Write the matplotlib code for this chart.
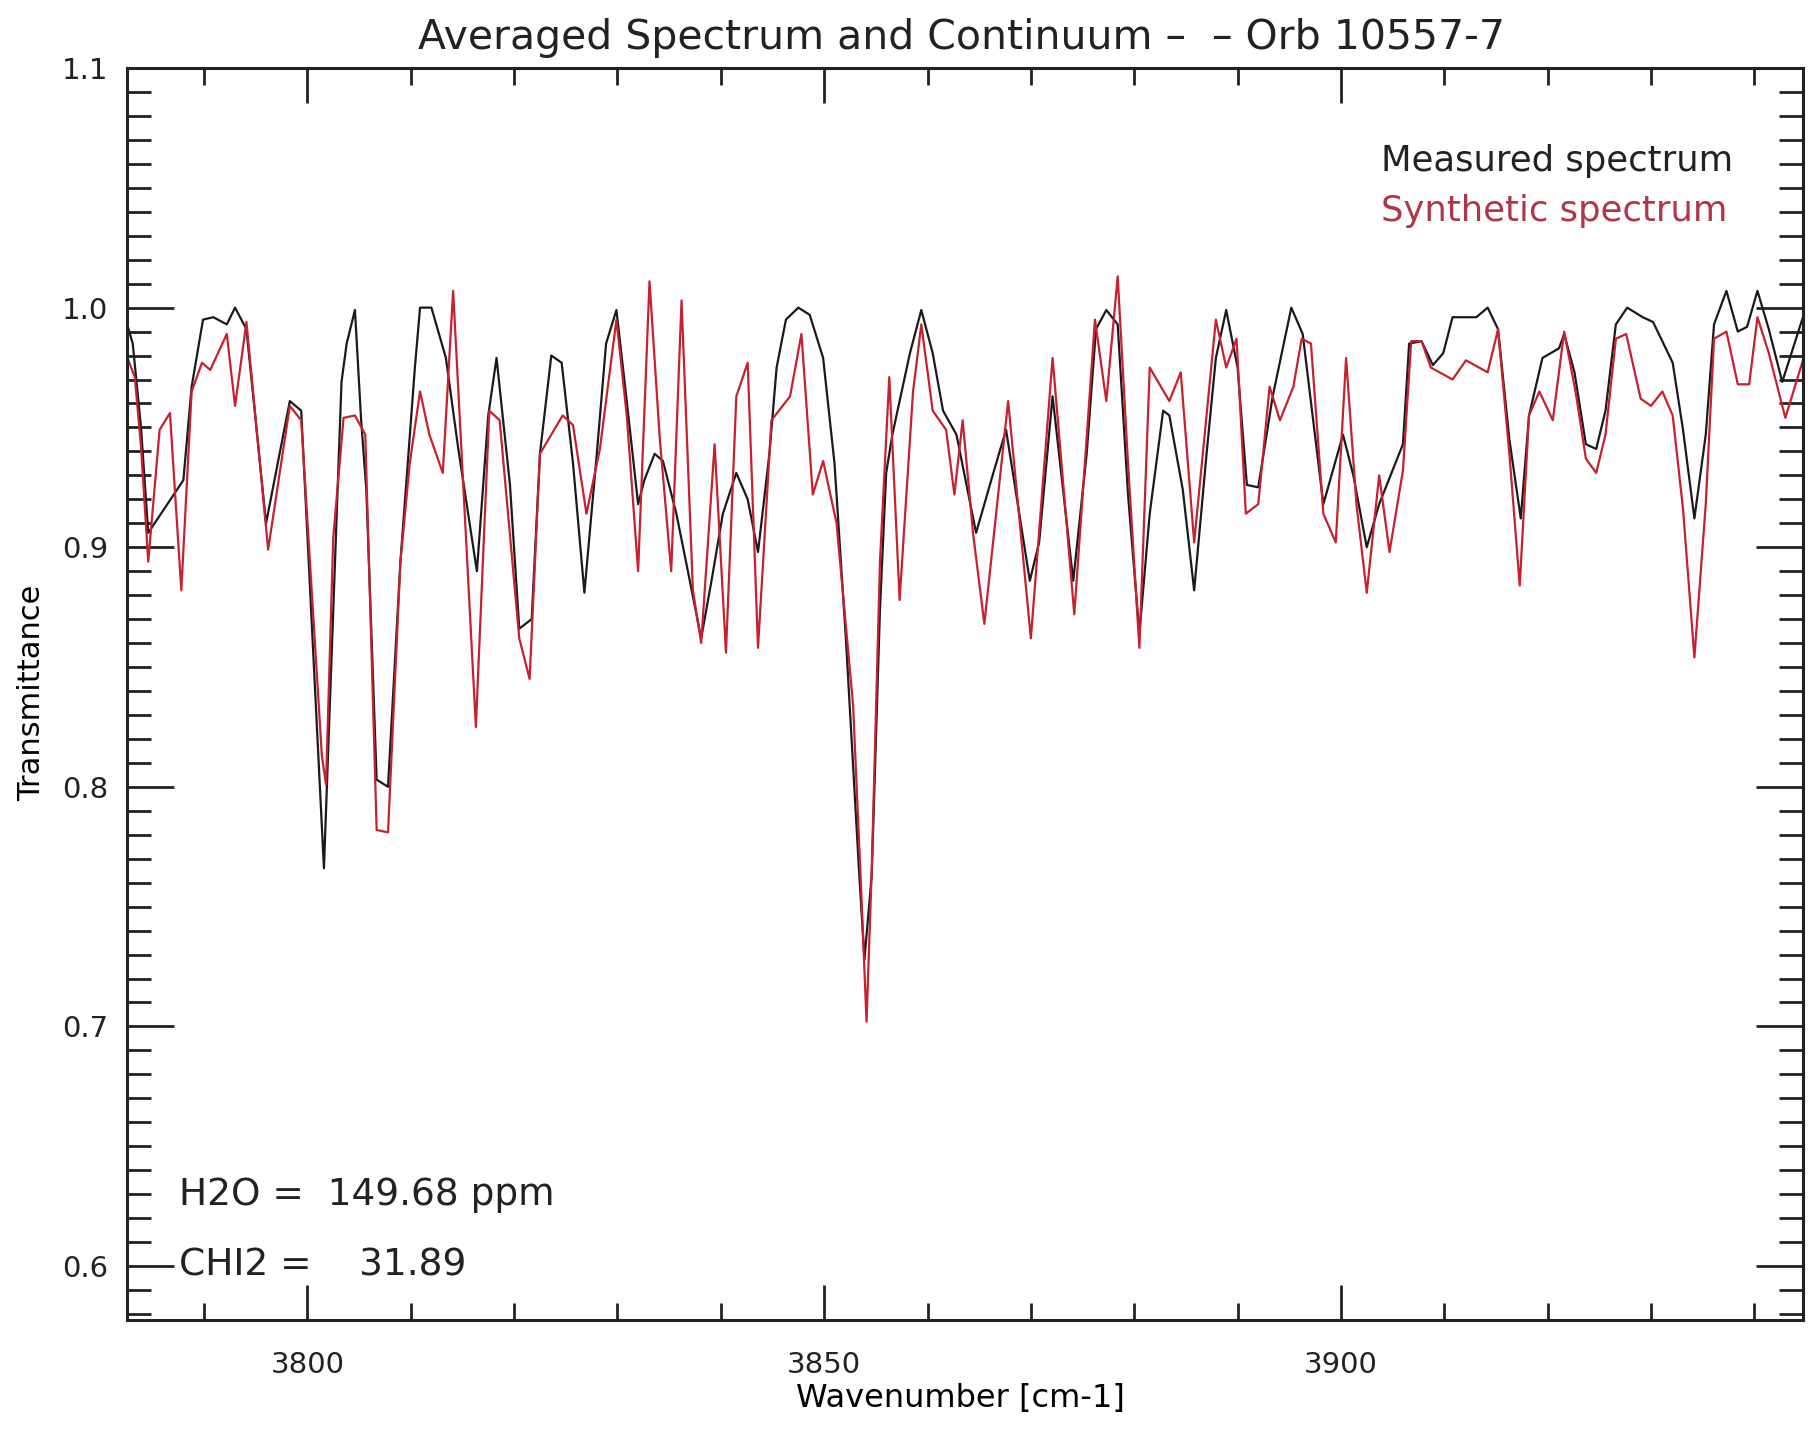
import matplotlib
matplotlib.use("Agg")
import matplotlib.pyplot as plt
from matplotlib.ticker import MultipleLocator

# measured spectrum (black)
meas_wn = [3782.5, 3783.1, 3783.9, 3784.6, 3788.0, 3788.8, 3789.9, 3790.9, 3792.2, 3793.0, 3794.1,
           3796.0, 3798.3, 3799.4, 3801.6, 3802.5, 3803.3, 3803.8, 3804.6, 3805.2, 3805.7,
           3806.7, 3807.8, 3809.0, 3810.4, 3810.9, 3812.0, 3813.4, 3814.6, 3816.4, 3817.5,
           3818.3, 3819.6, 3820.5, 3821.7, 3822.5, 3823.6, 3824.6, 3825.7, 3826.8, 3828.0,
           3828.9, 3829.9, 3830.9, 3832.0, 3832.6, 3833.6, 3834.4, 3835.7, 3837.0, 3838.1,
           3839.1, 3840.2, 3841.5, 3842.6, 3843.6, 3844.7, 3845.4, 3846.3, 3847.5, 3848.6,
           3849.9, 3851.0, 3852.1, 3853.4, 3853.9, 3854.6, 3855.4, 3856.0, 3856.6, 3858.3,
           3859.4, 3860.5, 3861.5, 3862.8, 3864.7, 3866.3, 3867.6, 3869.9, 3870.8, 3872.1,
           3874.1, 3875.4, 3876.3, 3877.3, 3878.4, 3879.4, 3880.5, 3881.5, 3882.8, 3883.4,
           3884.7, 3885.8, 3887.0, 3887.9, 3888.9, 3890.0, 3890.9, 3892.0, 3893.4, 3895.2,
           3896.3, 3898.3, 3900.2, 3901.2, 3902.5, 3903.7, 3906.0, 3906.6, 3907.8, 3908.9,
           3909.9, 3910.8, 3913.1, 3914.2, 3915.2, 3916.3, 3917.4, 3918.2, 3919.5, 3921.1,
           3921.6, 3922.6, 3923.7, 3924.7, 3925.6, 3926.6, 3927.7, 3929.2, 3930.2, 3932.1,
           3933.1, 3934.2, 3935.3, 3936.1, 3937.3, 3938.4, 3939.3, 3940.3, 3941.4, 3942.7,
           3944.7]
meas_tr = [0.994, 0.985, 0.950, 0.906, 0.928, 0.967, 0.995, 0.996, 0.993, 1.000, 0.991,
           0.910, 0.961, 0.957, 0.766, 0.874, 0.969, 0.985, 0.999, 0.953, 0.924,
           0.803, 0.800, 0.894, 0.975, 1.000, 1.000, 0.979, 0.941, 0.890, 0.955,
           0.979, 0.926, 0.866, 0.870, 0.939, 0.980, 0.977, 0.935, 0.881, 0.939,
           0.985, 0.999, 0.961, 0.918, 0.928, 0.939, 0.936, 0.914, 0.886, 0.862,
           0.886, 0.914, 0.931, 0.920, 0.898, 0.939, 0.975, 0.995, 1.000, 0.997,
           0.979, 0.935, 0.862, 0.763, 0.728, 0.763, 0.874, 0.931, 0.947, 0.981,
           0.999, 0.981, 0.957, 0.947, 0.906, 0.930, 0.949, 0.886, 0.902, 0.963,
           0.886, 0.939, 0.991, 0.999, 0.993, 0.922, 0.864, 0.914, 0.957, 0.955,
           0.924, 0.882, 0.939, 0.979, 0.999, 0.975, 0.926, 0.925, 0.963, 1.000,
           0.989, 0.918, 0.947, 0.930, 0.900, 0.918, 0.943, 0.985, 0.986, 0.976,
           0.981, 0.996, 0.996, 1.000, 0.991, 0.945, 0.912, 0.955, 0.979, 0.983,
           0.989, 0.973, 0.943, 0.941, 0.957, 0.993, 1.000, 0.996, 0.994, 0.977,
           0.949, 0.912, 0.947, 0.993, 1.007, 0.990, 0.992, 1.007, 0.991, 0.969,
           0.996]

# synthetic spectrum (red)
synt_wn = [3782.5, 3783.3, 3783.9, 3784.6, 3785.7, 3786.7, 3787.8, 3788.8, 3789.8, 3790.6,
           3792.2, 3793.0, 3794.1, 3796.2, 3798.3, 3799.4, 3801.4, 3801.8, 3802.5, 3803.5,
           3804.6, 3805.6, 3806.7, 3807.8, 3809.0, 3809.9, 3810.9, 3811.8, 3813.1, 3814.1,
           3816.3, 3817.6, 3818.6, 3820.5, 3821.5, 3822.5, 3824.7, 3825.7, 3827.0, 3828.3,
           3829.9, 3830.9, 3832.0, 3833.1, 3834.1, 3835.2, 3836.2, 3837.3, 3838.1, 3839.4,
           3840.5, 3841.5, 3842.6, 3843.6, 3844.9, 3846.7, 3847.8, 3848.9, 3849.9, 3851.2,
           3852.8, 3853.6, 3854.1, 3854.6, 3855.4, 3856.3, 3857.3, 3858.6, 3859.4, 3860.5,
           3861.8, 3862.6, 3863.4, 3864.4, 3865.5, 3867.8, 3870.0, 3872.1, 3874.2, 3876.2,
           3877.3, 3878.4, 3879.4, 3880.5, 3881.5, 3883.4, 3884.5, 3885.8, 3887.9, 3888.9,
           3889.9, 3890.8, 3892.0, 3893.1, 3894.1, 3895.4, 3896.2, 3897.1, 3898.3, 3899.5,
           3900.5, 3901.5, 3902.5, 3903.7, 3904.7, 3906.0, 3906.8, 3907.8, 3908.7, 3910.8,
           3912.1, 3914.2, 3915.2, 3916.3, 3917.3, 3918.2, 3919.2, 3920.5, 3921.6, 3922.7,
           3923.7, 3924.7, 3925.6, 3926.6, 3927.6, 3929.0, 3930.0, 3931.1, 3932.1, 3933.1,
           3934.2, 3935.3, 3936.1, 3937.3, 3938.4, 3939.5, 3940.3, 3941.4, 3943.0, 3944.7]
synt_tr = [0.980, 0.971, 0.942, 0.894, 0.949, 0.956, 0.882, 0.965, 0.977, 0.974,
           0.989, 0.959, 0.994, 0.899, 0.959, 0.953, 0.813, 0.801, 0.904, 0.954,
           0.955, 0.947, 0.782, 0.781, 0.894, 0.935, 0.965, 0.947, 0.931, 1.007,
           0.825, 0.957, 0.953, 0.862, 0.845, 0.939, 0.955, 0.951, 0.914, 0.941,
           0.995, 0.955, 0.890, 1.011, 0.945, 0.890, 1.003, 0.882, 0.860, 0.943,
           0.856, 0.963, 0.977, 0.858, 0.953, 0.963, 0.989, 0.922, 0.936, 0.910,
           0.834, 0.755, 0.702, 0.765, 0.894, 0.971, 0.878, 0.965, 0.993, 0.957,
           0.949, 0.922, 0.953, 0.906, 0.868, 0.961, 0.862, 0.979, 0.872, 0.995,
           0.961, 1.013, 0.935, 0.858, 0.975, 0.961, 0.973, 0.902, 0.995, 0.975,
           0.987, 0.914, 0.918, 0.967, 0.953, 0.967, 0.987, 0.985, 0.914, 0.902,
           0.979, 0.918, 0.881, 0.930, 0.898, 0.932, 0.986, 0.986, 0.975, 0.970,
           0.978, 0.973, 0.991, 0.939, 0.884, 0.955, 0.965, 0.953, 0.990, 0.965,
           0.937, 0.931, 0.947, 0.987, 0.989, 0.962, 0.959, 0.965, 0.955, 0.916,
           0.854, 0.918, 0.987, 0.990, 0.968, 0.968, 0.996, 0.981, 0.954, 0.978]

h2o_ppm = 149.68
chi2 = 31.89

plt.rcParams['font.family'] = ['DejaVu Sans']

fig = plt.figure(figsize=(18.18, 14.29), dpi=100)
ax = fig.add_axes([0.0696, 0.0763, 0.9221, 0.8761])

ax.plot(meas_wn, meas_tr, color='#1a1a1a', lw=1.6)
ax.plot(synt_wn, synt_tr, color='#c8202e', lw=1.6)

ax.set_xlim(3782.5, 3944.7)
ax.set_ylim(0.5775, 1.1)

ax.xaxis.set_major_locator(MultipleLocator(50))
ax.xaxis.set_minor_locator(MultipleLocator(10))
ax.yaxis.set_major_locator(MultipleLocator(0.1))
ax.yaxis.set_minor_locator(MultipleLocator(0.01))
ax.yaxis.set_major_formatter(matplotlib.ticker.FormatStrFormatter('%.1f'))

ax.tick_params(which='both', direction='in', top=True, right=True, width=2, colors='#222222')
ax.tick_params(axis='x', which='major', length=25, pad=22, labelsize=21)
ax.tick_params(axis='x', which='minor', length=12)
ax.tick_params(axis='y', which='major', length=34, pad=13, labelsize=21)
ax.tick_params(axis='y', which='minor', length=17)
for s in ax.spines.values():
    s.set_linewidth(2.2)
    s.set_color('#222222')

ax.set_xlabel('Wavenumber [cm-1]', fontsize=23, va='center')
ax.xaxis.set_label_coords(0.4976, -0.0631)
ax.set_ylabel('Transmittance', fontsize=22, va='center')
ax.yaxis.set_label_coords(-0.0566, 0.5008)

fig.text(0.529, 0.9734, 'Averaged Spectrum and Continuum \u2013  \u2013 Orb 10557-7',
         ha='center', va='center', fontsize=29.5, color='#222222')

ax.text(0.7483, 0.9255, 'Measured spectrum', transform=ax.transAxes,
        fontsize=25.5, color='#222222', ha='left', va='center')
ax.text(0.7483, 0.8855, 'Synthetic spectrum', transform=ax.transAxes,
        fontsize=25.5, color='#b03546', ha='left', va='center')

ax.text(0.0315, 0.0998, 'H2O =  %.2f ppm' % h2o_ppm, transform=ax.transAxes,
        fontsize=27, color='#222222', ha='left', va='center')
ax.text(0.0315, 0.0439, 'CHI2 =    %.2f' % chi2, transform=ax.transAxes,
        fontsize=27, color='#222222', ha='left', va='center')

fig.savefig('out.png', dpi=100, facecolor='white')
